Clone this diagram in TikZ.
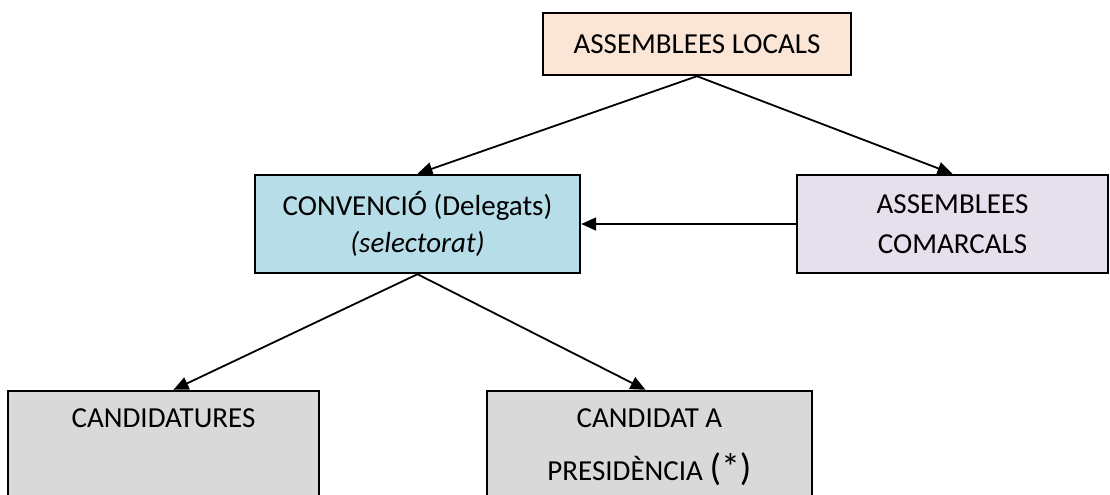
\documentclass[tikz,border=0pt]{standalone}
\usepackage{fontspec}
\setmainfont{Carlito}
\usetikzlibrary{arrows.meta}
\definecolor{localfill}{HTML}{FBE5D6}
\definecolor{convfill}{HTML}{B7DEE8}
\definecolor{comfill}{HTML}{E5E0EC}
\definecolor{candfill}{HTML}{D9D9D9}
\newcommand{\lowtext}[1]{\parbox[c][59.5pt][t]{155.5pt}{\centering\vspace*{9pt}#1}}

\begin{document}
\begin{tikzpicture}[x=0.5pt,y=-0.5pt,line width=0.9pt,
  >={Triangle[length=7.5pt,width=6.5pt]},
  box/.style={draw,line width=1.2pt,inner sep=0pt,align=center,
    font=\fontsize{14.5}{18.5}\selectfont},
  lowbox/.style={draw,line width=1.2pt,inner sep=0pt,fill=candfill,
    font=\fontsize{14.5}{18.5}\selectfont}]
  \useasboundingbox (0,0) rectangle (1110,494);
  \node[box,fill=localfill,minimum width=154pt,minimum height=31pt] (local) at (697,44) {ASSEMBLEES LOCALS};
  \node[box,fill=convfill,minimum width=162.5pt,minimum height=49pt] (conv) at (417.5,224) {CONVENCIÓ (Delegats)\\\textit{(selectorat)}};
  \node[box,fill=comfill,minimum width=155.5pt,minimum height=49pt] (comarc) at (952.5,224) {ASSEMBLEES\\[1.5pt]COMARCALS};
  \node[lowbox] (cand) at (163.5,450.5) {\lowtext{CANDIDATURES}};
  \node[lowbox] (pres) at (649.5,450.5) {\parbox[c][59.5pt][t]{162.5pt}{\centering\vspace*{9pt}CANDIDAT A\\[8pt]PRESIDÈNCIA {\fontsize{19}{21}\selectfont(*)}}};
  \path[->]
  (local.south) edge (conv.north)
  (local.south) edge (comarc.north)
  (comarc) edge (conv)
  (conv.south) edge ([xshift=5pt]cand.north)
  (conv.south) edge ([xshift=-2pt]pres.north);
\end{tikzpicture}
\end{document}
